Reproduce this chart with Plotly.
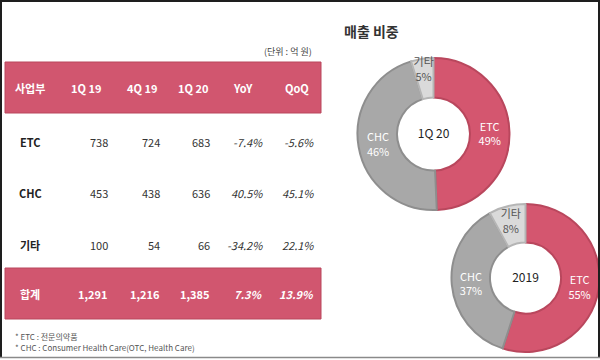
import plotly.graph_objects as go

# ---------------- data ----------------
categories = ["ETC", "CHC", "기타"]
periods = ["1Q 19", "4Q 19", "1Q 20"]
sales_1q19 = [738, 453, 100]
sales_4q19 = [724, 438, 54]
sales_1q20 = [683, 636, 66]
yoy_pct = [-7.4, 40.5, -34.2]
qoq_pct = [-5.6, 45.1, 22.1]
total_label = "합계"
total_sales = [1291, 1216, 1385]
total_yoy = 7.3
total_qoq = 13.9
share_2019 = [55, 37, 8]
donut_titles = ["1Q 20", "2019"]

W, H = 600, 360
FONT = "Noto Sans CJK KR"
RED = "#D1566F"
RED_LINE = "#B9475D"
slice_colors = ["#D4566F", "#A8A8A8", "#DADADA"]
slice_lines = ["#B9475D", "#8E8E8E", "#B5B5B5"]
slice_text = ["white", "white", "#555555"]


def px(x):
    return x / W


def py(y):
    return 1 - y / H


fig = go.Figure()

# ---------------- donuts ----------------
def add_donut(values, title, cx, cy, r):
    fig.add_trace(go.Pie(
        labels=categories,
        values=values,
        sort=False,
        direction="clockwise",
        rotation=0,
        hole=0.48,
        domain=dict(x=[px(cx - r), px(cx + r)], y=[py(cy + r), py(cy - r)]),
        marker=dict(colors=slice_colors, line=dict(color=slice_lines, width=2)),
        texttemplate="%{label}<br>%{percent:.0%}",
        textposition="inside",
        insidetextorientation="horizontal",
        textfont=dict(family=FONT, size=11, color=slice_text),
        title=dict(text=title, position="middle center",
                   font=dict(family=FONT, size=12, color="#222222")),
        showlegend=False,
        hoverinfo="label+percent",
    ))


add_donut(sales_1q20, donut_titles[0], 433.5, 134, 76)
add_donut(share_2019, donut_titles[1], 525.5, 278, 74)

# ---------------- table ----------------
shapes = []
# header and total bands
for (y0, y1) in [(62, 113), (268, 319)]:
    shapes.append(dict(type="rect", xref="paper", yref="paper",
                       x0=px(5), x1=px(321), y0=py(y1), y1=py(y0),
                       fillcolor=RED, line=dict(color=RED_LINE, width=1), layer="below"))
# frame
shapes.append(dict(type="line", xref="paper", yref="paper", x0=px(1), x1=px(1), y0=py(357), y1=py(0),
                   line=dict(color="#1e1e1e", width=2)))
shapes.append(dict(type="line", xref="paper", yref="paper", x0=px(599), x1=px(599), y0=py(357), y1=py(0),
                   line=dict(color="#1e1e1e", width=2)))
shapes.append(dict(type="line", xref="paper", yref="paper", x0=px(0), x1=px(600), y0=py(1), y1=py(1),
                   line=dict(color="#1e1e1e", width=2)))
shapes.append(dict(type="line", xref="paper", yref="paper", x0=px(0), x1=px(600), y0=py(357.5), y1=py(357.5),
                   line=dict(color="#8a8a8a", width=1.5)))

ann = []


def text(x, y, s, size=11, color="#333333", anchor="center", bold=False, italic=False):
    if bold:
        s = "<b>" + s + "</b>"
    if italic:
        s = "<i>" + s + "</i>"
    ann.append(dict(x=px(x), y=py(y), xref="paper", yref="paper", text=s, showarrow=False,
                    xanchor=anchor, yanchor="middle",
                    font=dict(family=FONT, size=size, color=color)))


header_x = [30, 86, 142, 193, 243, 297]
num_right = [110, 162, 212, 265, 316]
headers = ["사업부"] + periods + ["YoY", "QoQ"]
for hx, h in zip(header_x, headers):
    text(hx, 88, h, size=11, color="white", bold=True)

row_y = [142, 193, 245]
for i, cat in enumerate(categories):
    y = row_y[i]
    text(30, y, cat, size=11, color="#222222", bold=True)
    vals = [sales_1q19[i], sales_4q19[i], sales_1q20[i]]
    for j, v in enumerate(vals):
        text(num_right[j], y, f"{v:,}", color="#333333", anchor="right")
    text(num_right[3], y, f"{yoy_pct[i]:.1f}%", color="#333333", anchor="right", italic=True)
    text(num_right[4], y, f"{qoq_pct[i]:.1f}%", color="#333333", anchor="right", italic=True)

text(30, 294, total_label, color="white", bold=True)
for j, v in enumerate(total_sales):
    text(num_right[j], 294, f"{v:,}", color="white", anchor="right", bold=True)
text(num_right[3], 294, f"{total_yoy:.1f}%", color="white", anchor="right", bold=True, italic=True)
text(num_right[4], 294, f"{total_qoq:.1f}%", color="white", anchor="right", bold=True, italic=True)

text(314, 52, "(단위 : 억 원)", size=9, color="#444444", anchor="right")
text(13, 336, "* ETC : 전문의약품", size=8, color="#555555", anchor="left")
text(13, 347, "* CHC : Consumer Health Care(OTC, Health Care)", size=8, color="#555555", anchor="left")
text(342, 31, "매출 비중", size=14, color="#333333", anchor="left", bold=True)

fig.update_layout(
    width=W, height=H, autosize=False,
    margin=dict(l=0, r=0, t=0, b=0),
    paper_bgcolor="white", plot_bgcolor="white",
    shapes=shapes, annotations=ann,
    uniformtext=dict(minsize=11, mode="show"),
    font=dict(family=FONT),
)

fig.write_html("out.html")
